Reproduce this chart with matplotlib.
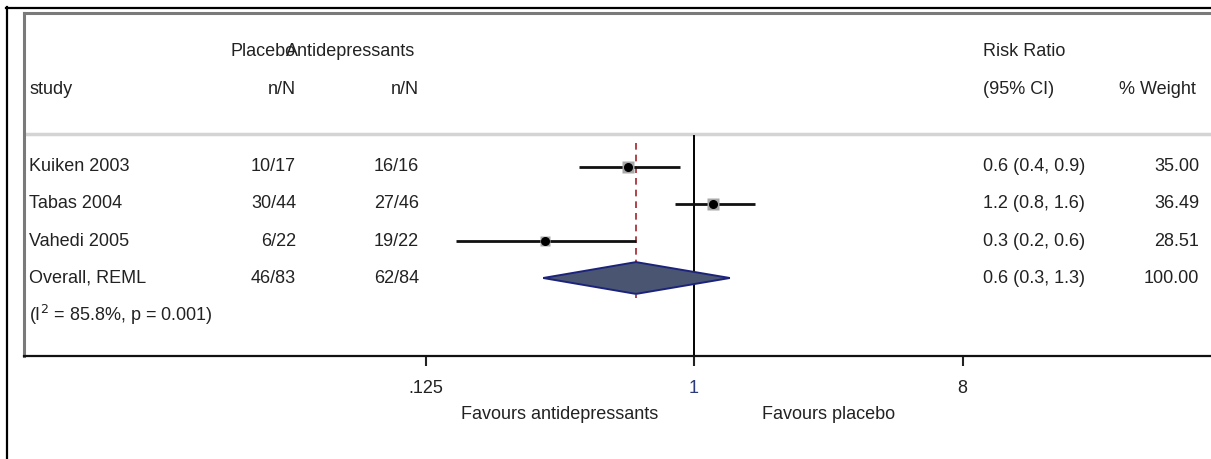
import numpy as np
import matplotlib
matplotlib.use("Agg")
import matplotlib.pyplot as plt
from matplotlib.lines import Line2D
from matplotlib.transforms import blended_transform_factory
from matplotlib.ticker import FixedLocator, FixedFormatter

plt.rcParams["font.family"] = ["Liberation Sans", "DejaVu Sans"]
FS = 13

# data
studies = ["Kuiken 2003", "Tabas 2004", "Vahedi 2005"]
placebo_nN = ["10/17", "30/44", "6/22"]
anti_nN = ["16/16", "27/46", "19/22"]
rr = [0.60, 1.16, 0.315]
rr_lo = [0.41, 0.86, 0.158]
rr_hi = [0.90, 1.60, 0.638]
weights = [35.00, 36.49, 28.51]
rr_text = ["0.6 (0.4, 0.9)", "1.2 (0.8, 1.6)", "0.3 (0.2, 0.6)"]

overall_label = "Overall, REML"
overall_placebo = "46/83"
overall_anti = "62/84"
overall_rr, overall_lo, overall_hi = 0.638, 0.311, 1.32
overall_text = "0.6 (0.3, 1.3)"
overall_weight = 100.00
het_text = r"(I$^{2}$ = 85.8%, p = 0.001)"

xticks = [0.125, 1, 8]
xtick_labels = [".125", "1", "8"]

# ---------------------------
# figure / axes
# ---------------------------
W, H = 1211, 459
fig = plt.figure(figsize=(W / 100, H / 100), dpi=100)
ax = fig.add_axes([24 / W, (H - 356) / H, 1187 / W, 343 / H])

ax.set_xscale("log", base=2)
ax.set_xlim(2 ** ((24 - 694) / 89.5), 2 ** ((1211 - 694) / 89.5))
ax.set_ylim(6.108, -3.162)

ax.spines["right"].set_visible(False)
ax.spines["top"].set_color("#7a7a7a")
ax.spines["top"].set_linewidth(2.2)
ax.spines["left"].set_color("#7a7a7a")
ax.spines["left"].set_linewidth(2.2)
ax.spines["bottom"].set_color("#111111")
ax.spines["bottom"].set_linewidth(1.6)

ax.xaxis.set_major_locator(FixedLocator(xticks))
ax.xaxis.set_major_formatter(FixedFormatter(xtick_labels))
ax.xaxis.set_minor_locator(FixedLocator([]))
ax.tick_params(axis="x", length=7, width=1.5, pad=10.5, labelsize=FS, colors="#222222")
ax.get_xticklabels()[1].set_color("#2a3a7a")
ax.set_yticks([])

# header separator
ax.axhline(0.108, color="#d4d4d4", lw=2.5)

# null line and overall line
ax.axvline(1, ymin=0, ymax=(6.108 - 0.16) / 9.27, color="black", lw=1.4)
ax.plot([overall_rr, overall_rr], [0.351, 4.54], color="#a3242a", lw=1.2,
        dashes=(4, 3))

rows = np.arange(1, len(studies) + 1)
for i, r in enumerate(rows):
    ax.plot([rr_lo[i], rr_hi[i]], [r, r], color="#111111", lw=2, solid_capstyle="butt")
    ax.plot(rr[i], r, marker="s", ms=weights[i] * 0.24, color="#a8a8a8", mec="none")
    ax.plot(rr[i], r, marker="o", ms=5.5, color="black")

r_ov = len(studies) + 1
dh = 0.43
ax.fill([overall_lo, overall_rr, overall_hi, overall_rr],
        [r_ov, r_ov - dh, r_ov, r_ov + dh],
        facecolor="#4a5572", edgecolor="#1c237a", lw=1.4, zorder=3)

# ---------------------------
# text columns
# ---------------------------
tr = blended_transform_factory(fig.transFigure, ax.transData)
tc = "#222222"

def put(px, y, s, ha="left"):
    ax.text(px / W, y, s, transform=tr, ha=ha, va="center", fontsize=FS, color=tc)

put(296, -2.135, "Placebo", "right")
put(415, -2.135, "Antidepressants", "right")
put(983, -2.135, "Risk Ratio")
put(29, -1.108, "study")
put(296, -1.108, "n/N", "right")
put(419, -1.108, "n/N", "right")
put(983, -1.108, "(95% CI)")
put(1196, -1.108, "% Weight", "right")

for i, r in enumerate(rows):
    put(29, r, studies[i])
    put(296, r, placebo_nN[i], "right")
    put(419, r, anti_nN[i], "right")
    put(983, r, rr_text[i])
    put(1199, r, f"{weights[i]:.2f}", "right")

put(29, r_ov, overall_label)
put(296, r_ov, overall_placebo, "right")
put(419, r_ov, overall_anti, "right")
put(983, r_ov, overall_text)
put(1199, r_ov, f"{overall_weight:.2f}", "right")
put(29, r_ov + 1, het_text)

tb = blended_transform_factory(ax.transData, ax.transAxes)
ax.text(2 ** -1.5, -0.172, "Favours antidepressants", transform=tb, ha="center",
        va="center", fontsize=FS, color=tc)
ax.text(2 ** 1.5, -0.172, "Favours placebo", transform=tb, ha="center",
        va="center", fontsize=FS, color=tc)

# outer cell borders
fig.add_artist(Line2D([6 / W, 1], [1 - 7.5 / H, 1 - 7.5 / H], color="black", lw=1.6,
                      transform=fig.transFigure))
fig.add_artist(Line2D([7 / W, 7 / W], [0, 1 - 6.5 / H], color="black", lw=1.6,
                      transform=fig.transFigure))

fig.savefig("out.png", dpi=100)
